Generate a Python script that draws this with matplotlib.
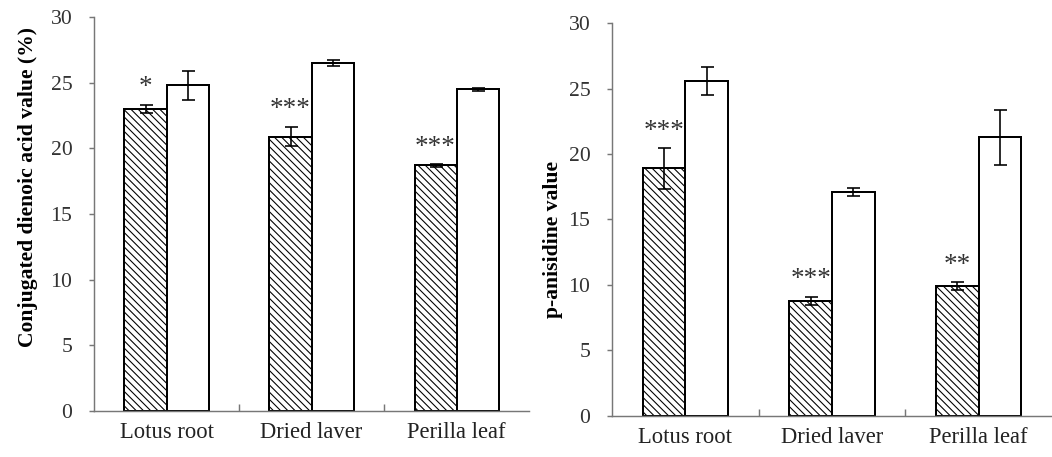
import numpy as np
import matplotlib.pyplot as plt

plt.rcParams['font.family'] = ['Liberation Serif', 'DejaVu Serif']
plt.rcParams['hatch.linewidth'] = 0.6

samples = ["Lotus root", "Dried laver", "Perilla leaf"]

# conjugated dienoic acid value (%)
cd_treated = [23.0, 20.9, 18.7]
cd_treated_err = [0.3, 0.75, 0.1]
cd_control = [24.8, 26.5, 24.5]
cd_control_err = [1.1, 0.2, 0.1]
cd_marks = ["*", "***", "***"]

# p-anisidine value
pav_treated = [18.9, 8.8, 9.9]
pav_treated_err = [1.55, 0.3, 0.3]
pav_control = [25.6, 17.1, 21.3]
pav_control_err = [1.05, 0.3, 2.1]
pav_marks = ["***", "***", "**"]

yticks = [0, 5, 10, 15, 20, 25, 30]

dpi = 130
fig = plt.figure(figsize=(1052 / dpi, 457 / dpi), dpi=dpi)
ax1 = fig.add_axes([0.0894, 0.1007, 0.4135, 0.8621])
ax2 = fig.add_axes([0.5817, 0.0904, 0.4183, 0.8586])

w = 0.29
x = np.arange(len(samples))
err_kw = dict(ecolor="black", elinewidth=0.9, capsize=3.6, capthick=0.9)


def draw(ax, treated, t_err, control, c_err, marks, ylabel, label_xy):
    ax.bar(x - w / 2, treated, w, yerr=t_err, facecolor="white",
           edgecolor="black", linewidth=1.1, hatch="\\\\\\\\\\\\",
           error_kw=err_kw)
    ax.bar(x + w / 2, control, w, yerr=c_err, facecolor="white",
           edgecolor="black", linewidth=1.1, error_kw=err_kw)
    for xi, v, e, m in zip(x, treated, t_err, marks):
        ax.text(xi - w / 2, v + e + 1.3, m, ha="center", va="center",
                fontsize=15, color="#333333")

    ax.set_xlim(-0.5, 2.5)
    ax.set_ylim(0, 30)
    ax.set_yticks(yticks)
    ax.tick_params(axis="y", direction="out", length=3, width=0.8,
                   color="#777777", labelsize=12, labelcolor="#333333", pad=9)
    # group separators on the x axis, sample names centred under each group
    ax.set_xticks([0.5, 1.5])
    ax.set_xticklabels([])
    ax.tick_params(axis="x", which="major", direction="in", length=4,
                   width=0.8, color="#777777")
    ax.set_xticks(x, minor=True)
    ax.set_xticklabels(samples, minor=True)
    ax.tick_params(axis="x", which="minor", length=0, labelsize=12.5,
                   labelcolor="#222222", pad=6)

    for s in ["top", "right"]:
        ax.spines[s].set_visible(False)
    for s in ["left", "bottom"]:
        ax.spines[s].set_color("#777777")
        ax.spines[s].set_linewidth(0.8)
    ax.set_ylabel(ylabel, fontsize=12, fontweight="bold")
    ax.yaxis.set_label_coords(*label_xy)


draw(ax1, cd_treated, cd_treated_err, cd_control, cd_control_err, cd_marks,
     "Conjugated dienoic acid value (%)", (-0.128, 0.569))
draw(ax2, pav_treated, pav_treated_err, pav_control, pav_control_err,
     pav_marks, "p-anisidine value", (-0.112, 0.448))

fig.savefig("out.png", dpi=dpi)
